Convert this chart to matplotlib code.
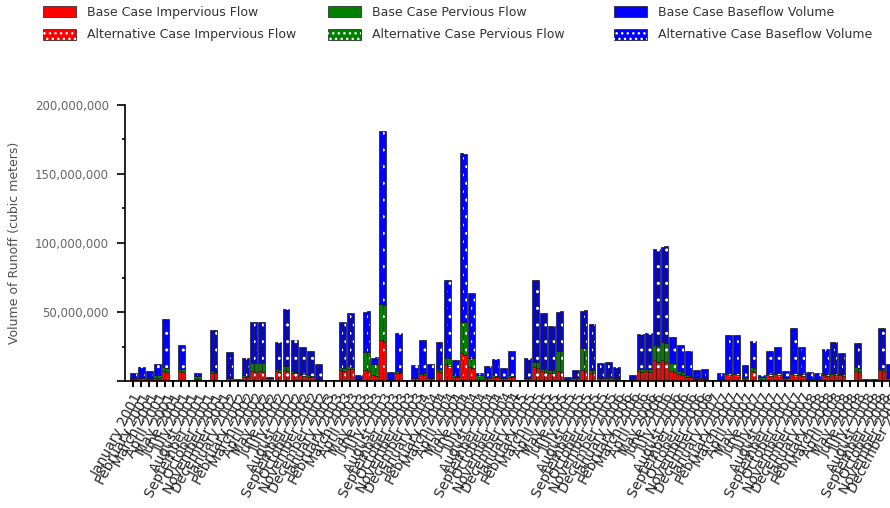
import matplotlib.pyplot as plt
import numpy as np
from matplotlib.patches import Patch
from matplotlib.ticker import FuncFormatter, MultipleLocator

months = ["January", "February", "March", "April", "May", "June", "July",
          "August", "September", "October", "November", "December"]
years = list(range(2001, 2009))
labels = [f"{m} {y}" for y in years for m in months]

# monthly runoff, millions of cubic meters
base_imperv = [1.5, 2, 1.5, 2.5, 7, 0.5, 7, 0.5, 1.5, 0.4, 6, 0.4,
               2, 0.5, 3, 7, 7, 2, 7, 8, 6, 4, 3, 1,
               0.2, 0.2, 8, 9, 1, 8, 4, 30, 1, 6, 0.2, 2,
               5, 2, 7, 12, 3, 20, 10, 1, 2, 3, 2, 3,
               0.4, 2, 10, 7, 6, 7, 1, 2, 8, 6, 2, 2,
               1.5, 0.4, 1, 7, 7, 15, 15, 7, 5, 3, 1.5, 1.5,
               0.4, 1, 5, 5, 2, 7, 1, 4, 5, 2, 5, 4,
               1, 1, 4, 5, 4, 0.4, 7, 0.5, 0.5, 8, 2, 1]
base_perv = [0.5, 0.5, 0.5, 2, 3, 0.2, 2, 0.2, 2, 0.2, 1, 0.2,
             0.5, 0.2, 1, 6, 6, 0.5, 2, 3, 1, 1, 1, 0.5,
             0.1, 0.1, 2, 2, 0.5, 13, 8, 26, 0.5, 1, 0.1, 0.5,
             1, 0.5, 2, 5, 1, 23, 7, 3, 1, 1, 0.5, 1,
             0.2, 0.5, 4, 2, 2, 15, 0.5, 0.5, 16, 2, 0.5, 1,
             0.5, 0.2, 0.5, 2, 2, 11, 13, 6, 2, 1, 0.5, 0.5,
             0.2, 0.5, 1, 1, 1, 3, 2, 1, 1, 0.5, 1, 1,
             0.5, 0.5, 1, 1, 1, 0.2, 3, 0.3, 0.3, 1, 0.5, 0.5]
base_baseflow = [4, 7.5, 5, 7.5, 35, 0.3, 17, 0.3, 2, 0.4, 30, 0.4,
                 18.5, 0.8, 13, 30, 30, 0.5, 19, 41, 23, 20, 18, 10.5,
                 0.2, 0.2, 33, 38, 2.5, 29, 5, 125, 5, 28, 0.2, 9,
                 24, 9.5, 19, 56, 11, 122, 47, 2, 8, 12, 7, 18,
                 0.4, 14.5, 59, 40, 32, 28, 1.5, 5.5, 27, 33, 10.5, 11,
                 8, 0.4, 2.5, 25, 26, 70, 69, 19, 19, 18, 6, 7,
                 0.4, 4.5, 27, 27, 8.5, 19, 1, 17, 19, 4.5, 32.5, 20,
                 5, 4, 18, 22, 15, 0.4, 17.5, 0.7, 0.7, 29.5, 9.5, 3.5]

alt_imperv = [1.4, 1.9, 1.4, 2.3, 6.5, 0.5, 6.6, 0.5, 1.4, 0.4, 5.6, 0.4,
              1.9, 0.5, 2.8, 6.5, 6.6, 1.9, 6.6, 7.5, 5.6, 3.8, 2.8, 1,
              0.2, 0.2, 7.5, 8.4, 1, 7.5, 3.8, 28, 1, 5.6, 0.2, 1.9,
              4.7, 1.9, 6.6, 11.2, 2.8, 18.6, 9.3, 1, 1.9, 2.8, 1.9, 2.8,
              0.4, 1.9, 9.3, 6.6, 5.6, 6.6, 1, 1.9, 7.5, 5.6, 1.9, 1.9,
              1.4, 0.4, 1, 6.6, 6.6, 14, 14, 6.6, 4.7, 2.8, 1.4, 1.4,
              0.4, 1, 4.7, 4.7, 1.9, 6.6, 1, 3.8, 4.7, 1.9, 4.7, 3.8,
              1, 1, 3.8, 4.7, 3.8, 0.4, 6.6, 0.5, 0.5, 7.5, 1.9, 1]
alt_perv = [0.5, 0.5, 0.5, 2, 3.2, 0.2, 2.1, 0.2, 2, 0.2, 1, 0.2,
            0.5, 0.2, 1, 6.2, 6.2, 0.5, 2.1, 3.2, 1, 1, 1, 0.5,
            0.1, 0.1, 2.1, 2.1, 0.5, 13.5, 8.3, 27, 0.5, 1, 0.1, 0.5,
            1, 0.5, 2.1, 5.2, 1, 24, 7.3, 3.1, 1, 1, 0.5, 1,
            0.2, 0.5, 4.2, 2.1, 2.1, 15.5, 0.5, 0.5, 16.5, 2.1, 0.5, 1,
            0.5, 0.2, 0.5, 2.1, 2.1, 11.5, 13.5, 6.2, 2.1, 1, 0.5, 0.5,
            0.2, 0.5, 1, 1, 1, 3.1, 2.1, 1, 1, 0.5, 1, 1,
            0.5, 0.5, 1, 1, 1, 0.2, 3.1, 0.3, 0.3, 1, 0.5, 0.5]
alt_baseflow = [4.1, 7.6, 5.1, 7.7, 35.5, 0.3, 17.3, 0.3, 2.1, 0.4, 30.4, 0.4,
                18.6, 0.8, 13.2, 30.3, 30.2, 0.6, 19.3, 41.3, 23.4, 20.2, 18.2, 10.5,
                0.2, 0.2, 33.4, 38.5, 2.5, 29.5, 5.1, 126, 5, 28.4, 0.2, 9.1,
                24.3, 9.6, 19.3, 56.6, 11.2, 122, 47.4, 2, 8.1, 12.2, 7.1, 18.2,
                0.4, 14.6, 59.5, 40.3, 32.3, 28.4, 1.5, 5.6, 27.5, 33.3, 10.6, 11.1,
                8.1, 0.4, 2.5, 25.3, 26.3, 70.5, 70, 19.2, 19.2, 18.2, 6.1, 7.1,
                0.4, 4.5, 27.3, 27.3, 8.6, 19.4, 1, 17.2, 19.3, 4.6, 32.8, 20.2,
                5, 4, 18.2, 22.3, 15.2, 0.4, 17.7, 0.7, 0.7, 29.8, 9.6, 3.5]

RED = "#ff0000"
GREEN = "#008000"
BLUE = "#0000ff"
EDGE = "#1a1a1a"

fig = plt.figure(figsize=(8.9, 5.08), dpi=100)
# plot runs past the right edge of the picture, like the original
ax = fig.add_axes([125 / 890, 127 / 508, 781 / 890, 276 / 508])

x = np.arange(len(labels))
w = 0.43


def draw_stack(xpos, imperv, perv, baseflow, dotted):
    imp = np.array(imperv) * 1e6
    per = np.array(perv) * 1e6
    bas = np.array(baseflow) * 1e6
    parts = [(imp, 0, RED), (per, imp, GREEN), (bas, imp + per, BLUE)]
    for vals, bottom, color in parts:
        ax.bar(xpos, vals, w, bottom=bottom, color=color,
               edgecolor=EDGE, linewidth=0.5)
        if dotted:
            ax.bar(xpos, vals, w, bottom=bottom, facecolor="none",
                   edgecolor="white", hatch="..", linewidth=0)


draw_stack(x - w / 2, base_imperv, base_perv, base_baseflow, False)
draw_stack(x + w / 2, alt_imperv, alt_perv, alt_baseflow, True)

ax.set_xlim(-1, 96)
ax.set_ylim(0, 200e6)
ax.spines["top"].set_visible(False)
ax.spines["right"].set_visible(False)
ax.spines["left"].set_linewidth(1.2)
ax.spines["bottom"].set_linewidth(1.2)

ax.yaxis.set_major_locator(MultipleLocator(50e6))
ax.yaxis.set_minor_locator(MultipleLocator(25e6))
ax.yaxis.set_major_formatter(FuncFormatter(lambda v, p: "" if v == 0 else f"{v:,.0f}"))
ax.tick_params(axis="y", which="major", length=5.5, width=1.2, labelsize=8.5,
               labelcolor="#666666", pad=6)
ax.tick_params(axis="y", which="minor", length=2.5, width=1.2)

ax.set_xticks(x)
ax.set_xticklabels(labels, rotation=62, ha="right", rotation_mode="anchor",
                   fontsize=10, color="#262626")
ax.tick_params(axis="x", length=4, width=1.4, pad=3)

ax.set_ylabel("Volume of Runoff (cubic meters)", fontsize=9, color="#505050",
              labelpad=10)

entries = [
    ("Base Case Impervious Flow", "Alternative Case Impervious Flow", RED, 43),
    ("Base Case Pervious Flow", "Alternative Case Pervious Flow", GREEN, 328),
    ("Base Case Baseflow Volume", "Alternative Case Baseflow Volume", BLUE, 614),
]
for base_lbl, alt_lbl, color, xpix in entries:
    solid = Patch(facecolor=color, edgecolor=EDGE, linewidth=0.5)
    dots = (Patch(facecolor=color, edgecolor=EDGE, linewidth=0.5),
            Patch(facecolor="none", edgecolor="white", hatch="...", linewidth=0))
    fig.legend([solid, dots], [base_lbl, alt_lbl], loc="upper left",
               bbox_to_anchor=(xpix / 890, 1 - 6 / 508), frameon=False,
               fontsize=9, handlelength=2.6, handleheight=1.0,
               handletextpad=0.9, labelspacing=0.75, borderpad=0,
               borderaxespad=0, labelcolor="#333333")

plt.savefig("out.png", dpi=100)
